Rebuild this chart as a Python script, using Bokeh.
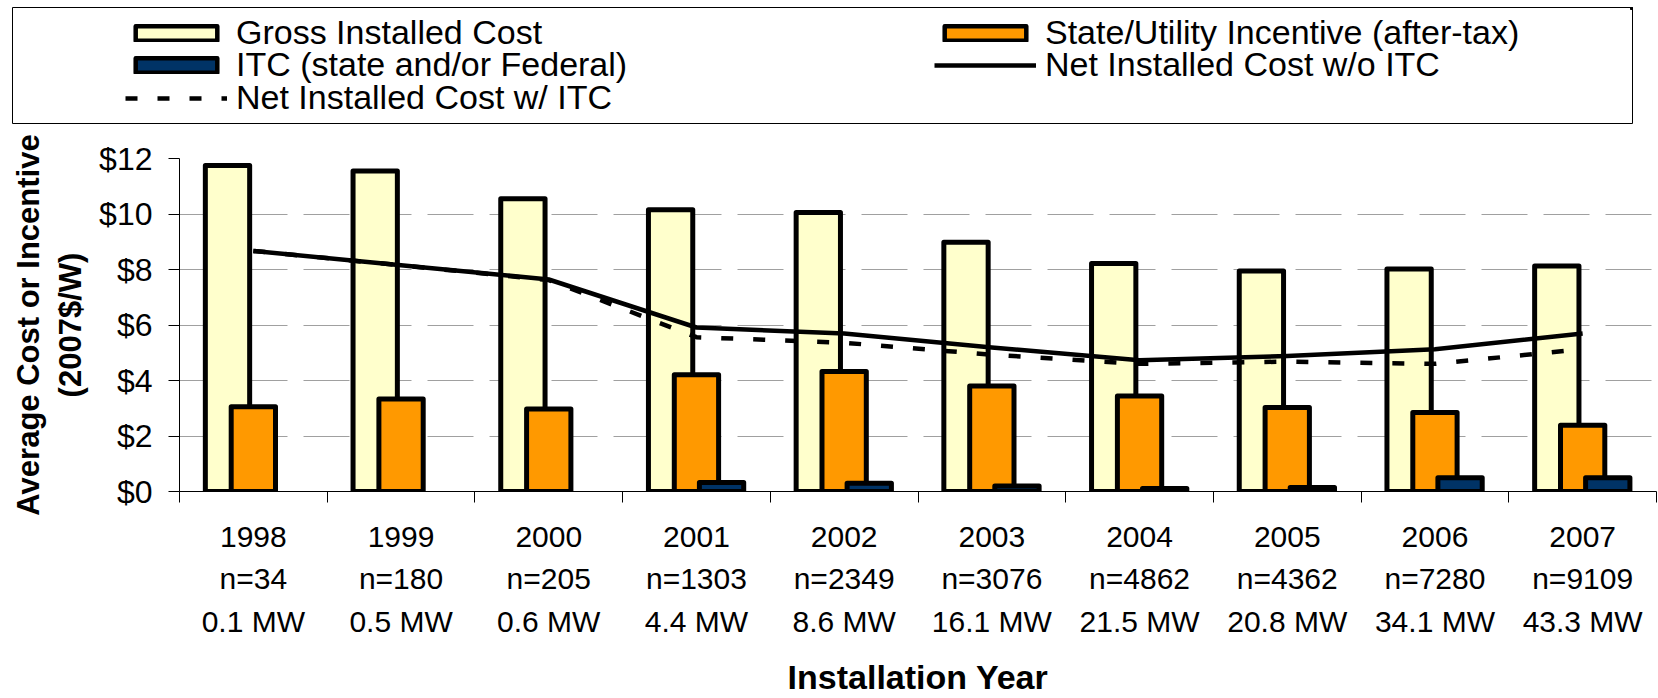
import numpy as np
from bokeh.plotting import figure
from bokeh.models import (ColumnDataSource, Range1d, LinearAxis, FixedTicker,
                          PrintfTickFormatter, Legend, LegendItem, CDSView, BooleanFilter)
from bokeh.layouts import column
from bokeh.transform import dodge
from bokeh.embed import file_html
from bokeh.resources import INLINE

# ---------------- data ----------------
years = ["1998", "1999", "2000", "2001", "2002", "2003", "2004", "2005", "2006", "2007"]
n_systems = ["n=34", "n=180", "n=205", "n=1303", "n=2349", "n=3076", "n=4862", "n=4362", "n=7280", "n=9109"]
capacity = ["0.1 MW", "0.5 MW", "0.6 MW", "4.4 MW", "8.6 MW", "16.1 MW", "21.5 MW", "20.8 MW", "34.1 MW", "43.3 MW"]

gross_cost = [11.75, 11.55, 10.55, 10.15, 10.05, 8.98, 8.22, 7.95, 8.02, 8.13]
state_incentive = [3.05, 3.33, 2.97, 4.21, 4.32, 3.80, 3.44, 3.03, 2.85, 2.39]
itc = [0.0, 0.0, 0.0, 0.32, 0.30, 0.20, 0.11, 0.14, 0.50, 0.50]
net_without_itc = [8.67, 8.15, 7.64, 5.91, 5.69, 5.19, 4.73, 4.88, 5.13, 5.69]
net_with_itc = [8.67, 8.15, 7.62, 5.56, 5.36, 4.93, 4.60, 4.68, 4.60, 5.13]

y_ticks = [0, 2, 4, 6, 8, 10, 12]

label_gross = "Gross Installed Cost"
label_state = "State/Utility Incentive (after-tax)"
label_itc = "ITC (state and/or Federal)"
label_net_wo = "Net Installed Cost w/o ITC"
label_net_w = "Net Installed Cost w/ ITC"

# ---------------- styles ----------------
FONT = "Liberation Sans"
C_GROSS = "#FFFFCC"
C_STATE = "#FF9900"
C_ITC = "#003366"

n = len(years)
centers = np.arange(n) + 0.5
edges = list(range(n + 1))

source = ColumnDataSource(dict(
    x=centers, gross=gross_cost, state=state_incentive, itc=itc,
    net_wo=net_without_itc, net_w=net_with_itc,
))
# zero-valued ITC years have no bar in the original chart
itc_view = CDSView(filter=BooleanFilter([v > 0 for v in itc]))

BAR_W = 0.30
OFFSETS = {"gross": -0.175, "state": 0.0, "itc": 0.17}
COLORS = {"gross": C_GROSS, "state": C_STATE, "itc": C_ITC}


def draw_series(fig, lw_bar, lw_line):
    rs = {}
    for key in ["gross", "state", "itc"]:
        kw = dict(view=itc_view) if key == "itc" else {}
        rs[key] = fig.vbar(x=dodge("x", OFFSETS[key]), top=key, bottom=0, width=BAR_W,
                           source=source, fill_color=COLORS[key], line_color="black",
                           line_width=lw_bar, line_join="round", **kw)
    rs["net_w"] = fig.line("x", "net_w", source=source, line_color="black",
                           line_width=lw_line, line_dash="12 20")
    rs["net_wo"] = fig.line("x", "net_wo", source=source, line_color="black",
                            line_width=lw_line, line_join="round")
    return rs


# ---------------- main chart ----------------
p = figure(width=1658, height=574, x_range=Range1d(0, n), y_range=Range1d(0, 12),
           output_backend="svg", toolbar_location=None, frame_align=False,
           min_border_left=179, min_border_right=2, min_border_top=34, min_border_bottom=207)
p.outline_line_color = None
p.background_fill_color = "white"
p.xgrid.visible = False
p.ygrid.grid_line_color = "#A0A0A0"
p.ygrid.grid_line_width = 1
p.ygrid.grid_line_dash = "46 16"

draw_series(p, 5, 4.5)

# y axis
ya = p.yaxis[0]
ya.ticker = FixedTicker(ticks=y_ticks)
ya.formatter = PrintfTickFormatter(format="$%d")
ya.major_tick_out = 11
ya.major_tick_in = 0
ya.minor_tick_out = 0
ya.minor_tick_in = 0
ya.axis_line_color = "black"
ya.major_tick_line_color = "black"
ya.major_label_text_font = FONT
ya.major_label_text_font_size = "32px"
ya.major_label_text_color = "black"
ya.major_label_standoff = 16
ya.axis_label = "Average Cost or Incentive\n(2007$/W)"
ya.axis_label_text_font = FONT
ya.axis_label_text_font_size = "31px"
ya.axis_label_text_font_style = "bold"
ya.axis_label_text_color = "black"
ya.axis_label_standoff = 8


def style_label_axis(ax, labels, standoff):
    ax.major_label_overrides = {float(c): t for c, t in zip(centers, labels)}
    ax.major_tick_line_color = None
    ax.major_tick_out = 11
    ax.major_tick_in = 0
    ax.major_label_standoff = standoff
    ax.major_label_text_font = FONT
    ax.major_label_text_font_size = "30px"
    ax.major_label_text_color = "black"


# x axis: year labels at centres, boundary ticks as minor ticks
xa = p.xaxis[0]
xa.ticker = FixedTicker(ticks=list(centers), minor_ticks=edges)
style_label_axis(xa, years, 24)
xa.axis_line_color = "black"
xa.minor_tick_line_color = "black"
xa.minor_tick_out = 11
xa.minor_tick_in = 0

for labels, standoff, title in [(n_systems, 12, None), (capacity, 7, "Installation Year")]:
    ax = LinearAxis(ticker=FixedTicker(ticks=list(centers)))
    style_label_axis(ax, labels, standoff)
    ax.major_tick_out = 0
    ax.axis_line_color = None
    ax.minor_tick_line_color = None
    ax.minor_tick_out = 0
    ax.minor_tick_in = 0
    if title:
        ax.axis_label = title
        ax.axis_label_text_font = FONT
        ax.axis_label_text_font_size = "34px"
        ax.axis_label_text_font_style = "bold"
        ax.axis_label_text_color = "black"
        ax.axis_label_standoff = 17
    p.add_layout(ax, "below")

# ---------------- legend panel ----------------
lf = figure(width=1633, height=124, x_range=Range1d(-20, -10), y_range=Range1d(-20, -10),
            output_backend="svg", toolbar_location=None, frame_align=False,
            x_axis_location=None, y_axis_location=None,
            min_border_left=12, min_border_right=1, min_border_top=7, min_border_bottom=1)
lf.outline_line_color = "black"
lf.outline_line_width = 1
lf.grid.visible = False
proxy = draw_series(lf, 4.5, 4.5)


def row_legend(items, vy):
    leg = Legend(items=items, location=(113, vy), orientation="horizontal",
                 padding=0, spacing=0, margin=0, glyph_width=102, glyph_height=18,
                 label_standoff=9, label_width=698, label_text_font=FONT,
                 label_text_font_size="34px", label_text_color="black",
                 border_line_alpha=0, background_fill_alpha=0)
    lf.add_layout(leg, "center")


row_legend([LegendItem(label=label_gross, renderers=[proxy["gross"]]),
            LegendItem(label=label_state, renderers=[proxy["state"]])], 71)
row_legend([LegendItem(label=label_itc, renderers=[proxy["itc"]]),
            LegendItem(label=label_net_wo, renderers=[proxy["net_wo"]])], 39)
row_legend([LegendItem(label=label_net_w, renderers=[proxy["net_w"]])], 6)

layout = column(lf, p)
open("out.html", "w").write(file_html(layout, INLINE))
